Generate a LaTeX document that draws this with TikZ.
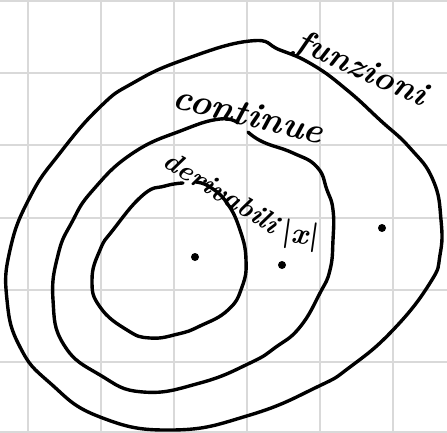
\documentclass[tikz,border=0pt]{standalone}

\tikzset{
  hand/.style={inner sep=0pt, font=\fontsize{34}{34}\selectfont\bfseries\itshape},
  gridline/.style={gray!30, line width=1.2pt},
}

\begin{document}
\begin{tikzpicture}[x=1pt, y=-1pt, line width=3.4pt, line cap=round, line join=round]
  \useasboundingbox (0,0) rectangle (447,433);
  \fill[white] (0,0) rectangle (447,433);

  % 方格纸
  \foreach \x in {28,101,174,247,320,393}
    \draw[gridline] (\x,0) -- (\x,433);
  \foreach \y in {1,73,145,218,290,362,432}
    \draw[gridline] (0,\y) -- (447,\y);

  % 三条闭曲线
  \draw plot[smooth cycle, tension=0.8] coordinates {
    (250,41) (280,50) (313,65) (347,90) (380,120) (410,148) (433,180)
    (441,220) (440,255) (430,283) (393,330) (350,367) (317,387)
    (250,415) (173,430) (100,417) (50,383) (20,347) (7,300) (10,250)
    (30,197) (60,153) (100,107) (133,83) (183,60)};
  \draw plot[smooth, tension=0.8] coordinates {
    (248,132) (263,142) (293,153) (317,167) (327,190) (333,210)
    (333,240) (330,270) (320,293) (300,327) (276,347) (250,363)
    (200,383) (143,392) (100,375) (64,345) (53,300) (58,255)
    (72,222) (93,190) (133,153) (183,130) (220,119) (238,123)};
  \draw plot[smooth, tension=0.8] coordinates {
    (196,182) (210,187) (227,203) (240,230) (246,260) (242,287)
    (228,310) (200,326) (178,334) (150,338) (127,330) (100,307)
    (92,280) (100,250) (113,230) (143,195) (165,186) (183,183)};

  % 点
  \coordinate (P1) at (195,257);
  \coordinate (P2) at (282,265);
  \coordinate (P3) at (382,228);
  \foreach \p in {P1,P2,P3}
    \fill (\p) circle (4pt);

  \node[hand, rotate=-24] (funzioni) at (361,70) {funzioni};
  \node[hand, rotate=-14, font=\fontsize{36}{36}\selectfont\bfseries\itshape] (continue) at (249,114) {continue};
  \node[hand, rotate=-32, font=\fontsize{28}{28}\selectfont\bfseries\itshape] (derivabili) at (222,192) {derivabili};
  \node[hand, rotate=-8, font=\fontsize{30}{30}\selectfont\bfseries] (modx) at (301,236) {|\textit{x}|};
\end{tikzpicture}
\end{document}
